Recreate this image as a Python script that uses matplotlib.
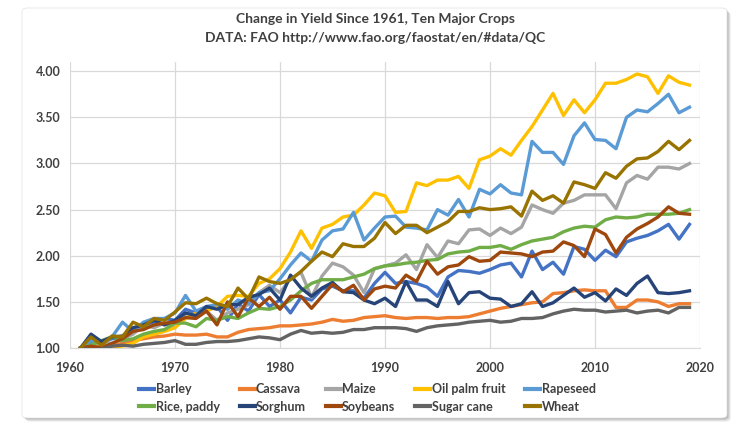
import matplotlib
matplotlib.use("Agg")
import matplotlib.pyplot as plt
from matplotlib.patches import FancyBboxPatch

years = list(range(1961, 2020))

barley = [1.00, 1.06, 1.07, 1.10, 1.12, 1.18, 1.25, 1.28, 1.32, 1.30,
          1.42, 1.38, 1.42, 1.45, 1.30, 1.48, 1.40, 1.58, 1.45, 1.52,
          1.38, 1.55, 1.52, 1.64, 1.67, 1.62, 1.62, 1.54, 1.70, 1.82,
          1.70, 1.72, 1.70, 1.66, 1.56, 1.77, 1.84, 1.83, 1.81, 1.85,
          1.90, 1.92, 1.77, 2.05, 1.85, 1.93, 1.80, 2.10, 2.07, 1.95,
          2.06, 1.99, 2.15, 2.19, 2.22, 2.27, 2.34, 2.18, 2.34]
cassava = [1.00, 1.01, 1.02, 1.03, 1.05, 1.08, 1.10, 1.12, 1.13, 1.15,
           1.14, 1.14, 1.15, 1.12, 1.12, 1.17, 1.20, 1.21, 1.22, 1.24,
           1.24, 1.25, 1.26, 1.28, 1.31, 1.29, 1.30, 1.33, 1.34, 1.35,
           1.33, 1.32, 1.33, 1.33, 1.32, 1.33, 1.33, 1.34, 1.37, 1.40,
           1.43, 1.45, 1.47, 1.49, 1.50, 1.59, 1.60, 1.62, 1.63, 1.62,
           1.62, 1.44, 1.44, 1.52, 1.52, 1.50, 1.45, 1.48, 1.48]
maize = [1.00, 1.03, 1.07, 1.05, 1.10, 1.15, 1.25, 1.22, 1.27, 1.22,
         1.37, 1.35, 1.40, 1.30, 1.38, 1.42, 1.47, 1.60, 1.68, 1.60,
         1.75, 1.82, 1.55, 1.78, 1.92, 1.88, 1.79, 1.60, 1.86, 1.89,
         1.92, 2.01, 1.85, 2.12, 1.98, 2.16, 2.13, 2.28, 2.29, 2.22,
         2.30, 2.24, 2.31, 2.55, 2.50, 2.46, 2.57, 2.60, 2.66, 2.66,
         2.66, 2.51, 2.79, 2.87, 2.83, 2.96, 2.96, 2.94, 3.00]
oil_palm = [1.00, 0.99, 0.98, 1.00, 1.02, 1.05, 1.12, 1.15, 1.18, 1.22,
            1.32, 1.38, 1.40, 1.45, 1.56, 1.57, 1.56, 1.70, 1.75, 1.86,
            2.04, 2.27, 2.08, 2.30, 2.34, 2.42, 2.44, 2.55, 2.68, 2.65,
            2.47, 2.48, 2.79, 2.76, 2.82, 2.82, 2.86, 2.73, 3.04, 3.08,
            3.16, 3.09, 3.25, 3.40, 3.58, 3.76, 3.52, 3.69, 3.55, 3.69,
            3.87, 3.87, 3.91, 3.97, 3.94, 3.76, 3.95, 3.88, 3.85]
rapeseed = [1.00, 1.08, 1.05, 1.12, 1.28, 1.18, 1.28, 1.32, 1.32, 1.38,
            1.57, 1.40, 1.45, 1.47, 1.42, 1.52, 1.48, 1.60, 1.62, 1.75,
            1.90, 2.03, 1.94, 2.17, 2.27, 2.29, 2.47, 2.17, 2.30, 2.42,
            2.43, 2.31, 2.30, 2.28, 2.50, 2.44, 2.61, 2.42, 2.72, 2.67,
            2.77, 2.68, 2.66, 3.24, 3.12, 3.12, 2.99, 3.30, 3.44, 3.26,
            3.25, 3.16, 3.50, 3.58, 3.56, 3.65, 3.75, 3.55, 3.61]
rice = [1.00, 1.03, 1.08, 1.12, 1.08, 1.10, 1.15, 1.18, 1.20, 1.27,
        1.27, 1.23, 1.32, 1.30, 1.34, 1.32, 1.38, 1.43, 1.42, 1.45,
        1.52, 1.62, 1.70, 1.74, 1.74, 1.74, 1.77, 1.80, 1.86, 1.89,
        1.90, 1.92, 1.93, 1.95, 1.96, 2.02, 2.04, 2.05, 2.09, 2.09,
        2.11, 2.07, 2.12, 2.16, 2.18, 2.20, 2.26, 2.30, 2.32, 2.31,
        2.39, 2.42, 2.41, 2.42, 2.45, 2.45, 2.45, 2.46, 2.50]
sorghum = [1.00, 1.15, 1.07, 1.12, 1.13, 1.22, 1.25, 1.30, 1.25, 1.30,
           1.38, 1.35, 1.45, 1.42, 1.47, 1.47, 1.55, 1.58, 1.65, 1.52,
           1.79, 1.65, 1.56, 1.65, 1.71, 1.61, 1.60, 1.52, 1.48, 1.54,
           1.45, 1.72, 1.52, 1.52, 1.45, 1.72, 1.48, 1.60, 1.61, 1.54,
           1.53, 1.45, 1.48, 1.61, 1.45, 1.49, 1.57, 1.65, 1.55, 1.60,
           1.51, 1.64, 1.57, 1.70, 1.78, 1.60, 1.59, 1.60, 1.62]
soybeans = [1.00, 1.02, 1.00, 1.05, 1.10, 1.18, 1.20, 1.25, 1.27, 1.28,
            1.33, 1.32, 1.40, 1.25, 1.50, 1.34, 1.54, 1.45, 1.55, 1.42,
            1.56, 1.56, 1.43, 1.56, 1.69, 1.61, 1.68, 1.52, 1.64, 1.67,
            1.65, 1.79, 1.72, 1.94, 1.80, 1.88, 1.90, 1.99, 1.94, 1.95,
            2.04, 2.03, 2.02, 1.99, 2.04, 2.05, 2.15, 2.11, 1.99, 2.29,
            2.23, 2.03, 2.20, 2.29, 2.35, 2.42, 2.53, 2.46, 2.45]
sugar_cane = [1.00, 0.98, 0.99, 1.02, 1.03, 1.02, 1.04, 1.05, 1.06, 1.08,
              1.04, 1.04, 1.06, 1.07, 1.07, 1.08, 1.10, 1.12, 1.11, 1.09,
              1.15, 1.19, 1.16, 1.17, 1.16, 1.17, 1.20, 1.20, 1.22, 1.22,
              1.22, 1.21, 1.18, 1.22, 1.24, 1.25, 1.26, 1.28, 1.29, 1.30,
              1.28, 1.29, 1.32, 1.32, 1.33, 1.37, 1.40, 1.42, 1.41, 1.41,
              1.39, 1.40, 1.41, 1.38, 1.40, 1.41, 1.38, 1.44, 1.44]
wheat = [1.00, 1.12, 1.03, 1.13, 1.12, 1.28, 1.23, 1.32, 1.30, 1.39,
         1.49, 1.48, 1.54, 1.48, 1.45, 1.65, 1.53, 1.77, 1.72, 1.70,
         1.74, 1.83, 1.94, 2.04, 1.99, 2.13, 2.10, 2.10, 2.19, 2.36,
         2.24, 2.33, 2.33, 2.25, 2.31, 2.37, 2.48, 2.48, 2.52, 2.50,
         2.51, 2.53, 2.43, 2.70, 2.60, 2.65, 2.57, 2.80, 2.77, 2.73,
         2.90, 2.84, 2.97, 3.05, 3.06, 3.13, 3.24, 3.15, 3.25]

crops = ["Barley", "Cassava", "Maize", "Oil palm fruit", "Rapeseed",
         "Rice, paddy", "Sorghum", "Soybeans", "Sugar cane", "Wheat"]
series = [barley, cassava, maize, oil_palm, rapeseed,
          rice, sorghum, soybeans, sugar_cane, wheat]
colors = ["#4472C4", "#ED7D31", "#A5A5A5", "#FFC000", "#5B9BD5",
          "#70AD47", "#264478", "#9E480E", "#636363", "#997300"]

plt.rcParams["font.family"] = ["Lato", "DejaVu Sans"]
text_color = "#404040"

fig = plt.figure(figsize=(7.5, 4.3), dpi=100)
fig.patch.set_facecolor("white")

# card with soft shadow
W, H = 750.0, 430.0
cx0, cy0, cx1, cy1 = 22, 8, 727, 418
for i, a in enumerate([0.05, 0.07, 0.09, 0.12]):
    off = 4 - i
    fig.patches.append(FancyBboxPatch(
        ((cx0 + off) / W, 1 - (cy1 + off) / H),
        (cx1 - cx0) / W, (cy1 - cy0) / H,
        boxstyle="round,pad=0,rounding_size=0.008",
        transform=fig.transFigure, facecolor="black", edgecolor="none",
        alpha=a, zorder=-3))
fig.patches.append(FancyBboxPatch(
    (cx0 / W, 1 - cy1 / H), (cx1 - cx0) / W, (cy1 - cy0) / H,
    boxstyle="round,pad=0,rounding_size=0.008",
    transform=fig.transFigure, facecolor="white", edgecolor="#e6e6e6",
    linewidth=0.6, zorder=-2))

ax = fig.add_axes([70 / W, 1 - 348 / H, 630 / W, 286 / H])
ax.set_zorder(2)
ax.set_facecolor("none")

for i in range(len(crops)):
    ax.plot(years, series[i], color=colors[i], linewidth=2.4,
            label=crops[i], zorder=3)

ax.set_xlim(1960, 2020)
ax.set_ylim(1.0, 4.1)
ax.set_xticks(range(1960, 2021, 10))
ax.set_yticks([1.0, 1.5, 2.0, 2.5, 3.0, 3.5, 4.0])
ax.set_yticklabels([f"{v:.2f}" for v in ax.get_yticks()])
ax.grid(True, color="#d9d9d9", linewidth=0.9)
ax.set_axisbelow(True)
for side in ["top", "right", "left"]:
    ax.spines[side].set_visible(False)
ax.spines["bottom"].set_color("#d9d9d9")
ax.tick_params(length=0, colors=text_color, labelsize=9)
ax.tick_params(axis="x", pad=10)
ax.tick_params(axis="y", pad=7)
for lab in ax.get_xticklabels() + ax.get_yticklabels():
    lab.set_fontweight("bold")

fig.text(0.5, 1 - 19 / H, "Change in Yield Since 1961, Ten Major Crops",
         ha="center", va="center", fontsize=10, fontweight="bold",
         color=text_color)
fig.text(0.5, 1 - 38 / H, "DATA: FAO http://www.fao.org/faostat/en/#data/QC",
         ha="center", va="center", fontsize=10, fontweight="bold",
         color=text_color)

# legend is filled row by row in the reference, matplotlib fills by column
handles, labels = ax.get_legend_handles_labels()
idx = [0, 5, 1, 6, 2, 7, 3, 8, 4, 9]
leg = fig.legend([handles[i] for i in idx], [labels[i] for i in idx],
                 loc="center", bbox_to_anchor=(0.49, 1 - 398 / H),
                 ncol=5, frameon=False, fontsize=9, handlelength=1.2,
                 handletextpad=0.1, columnspacing=1.6, labelspacing=0.45,
                 labelcolor=text_color)
leg.set_zorder(5)
for t in leg.get_texts():
    t.set_fontweight("bold")
for h in leg.get_lines():
    h.set_linewidth(3)

fig.savefig("out.png", dpi=100, facecolor=fig.get_facecolor())
